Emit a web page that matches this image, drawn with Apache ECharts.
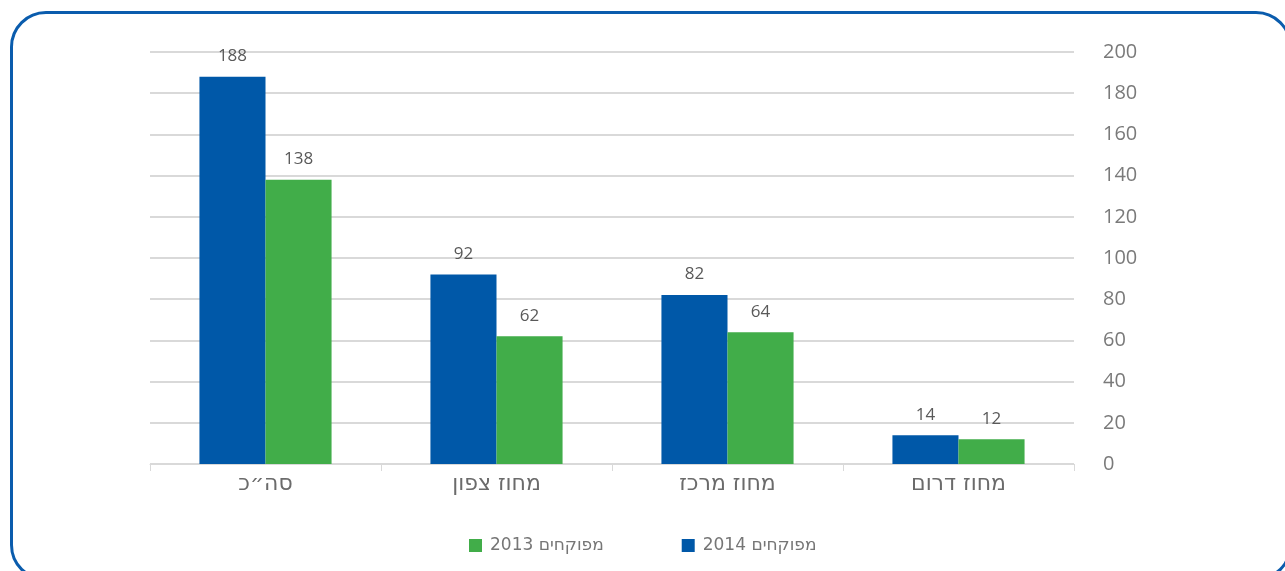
<!DOCTYPE html>
<html>
<head>
<meta charset="utf-8">
<script src="https://cdn.jsdelivr.net/npm/echarts@6/dist/echarts.min.js"></script>
<style>
  html, body { margin: 0; padding: 0; background: #fff; overflow: hidden; }
  #chart { width: 1285px; height: 571px; }
  #frame {
    position: absolute; left: 10px; top: 11px; width: 1282px; height: 570px;
    border: 3px solid #0a5cad; border-radius: 36px; box-sizing: border-box;
    pointer-events: none;
  }
</style>
</head>
<body>
<div id="chart"></div>
<div id="frame"></div>
<script>
// נתונים
const categories = ["סה״כ", "מחוז צפון", "מחוז מרכז", "מחוז דרום"];
const values2014 = [188, 92, 82, 14];
const values2013 = [138, 62, 64, 12];
const seriesNames = ["מפוקחים 2014", "מפוקחים 2013"];
const yTicks = { min: 0, max: 200, interval: 20 };

const colors = { blue: "#0058a8", green: "#41ad49", label: "#595959", axis: "#7a7a7a", grid: "#d9d9d9" };

const chart = echarts.init(document.getElementById("chart"));

const labelOpt = {
  show: true,
  position: "top",
  distance: 12,
  color: colors.label,
  fontSize: 17,
  fontFamily: "Open Sans",
};

chart.setOption({
  animation: false,
  grid: { left: 150, right: 211, top: 52, bottom: 107, containLabel: false },
  legend: {
    bottom: 12,
    left: 464,
    align: "left",
    itemWidth: 13,
    itemHeight: 13,
    itemGap: 78,
    icon: "rect",
    data: [seriesNames[1], seriesNames[0]],
    formatter: (name) => "\u202B" + name + "\u202C",
    textStyle: { color: "#767676", fontSize: 17, padding: [0, 0, 0, 3], fontFamily: "DejaVu Sans" },
  },
  xAxis: {
    type: "category",
    data: categories,
    axisLine: { lineStyle: { color: colors.grid, width: 1 } },
    axisTick: { show: true, length: 7, lineStyle: { color: colors.grid } },
    axisLabel: { color: "#6b6b6b", fontSize: 22, margin: 9, fontFamily: "DejaVu Sans" },
  },
  yAxis: {
    type: "value",
    position: "right",
    min: yTicks.min,
    max: yTicks.max,
    interval: yTicks.interval,
    axisLine: { show: false },
    axisTick: { show: false },
    axisLabel: { color: colors.axis, fontSize: 20, margin: 29, align: "left", fontFamily: "Open Sans" },
    splitLine: { lineStyle: { color: colors.grid, width: 2 } },
  },
  series: [
    {
      name: seriesNames[0],
      type: "bar",
      data: values2014,
      barWidth: "28.6%",
      barGap: "0%",
      itemStyle: { color: colors.blue },
      label: labelOpt,
    },
    {
      name: seriesNames[1],
      type: "bar",
      data: values2013,
      barWidth: "28.6%",
      barGap: "0%",
      itemStyle: { color: colors.green },
      label: labelOpt,
    },
  ],
});
</script>
</body>
</html>
